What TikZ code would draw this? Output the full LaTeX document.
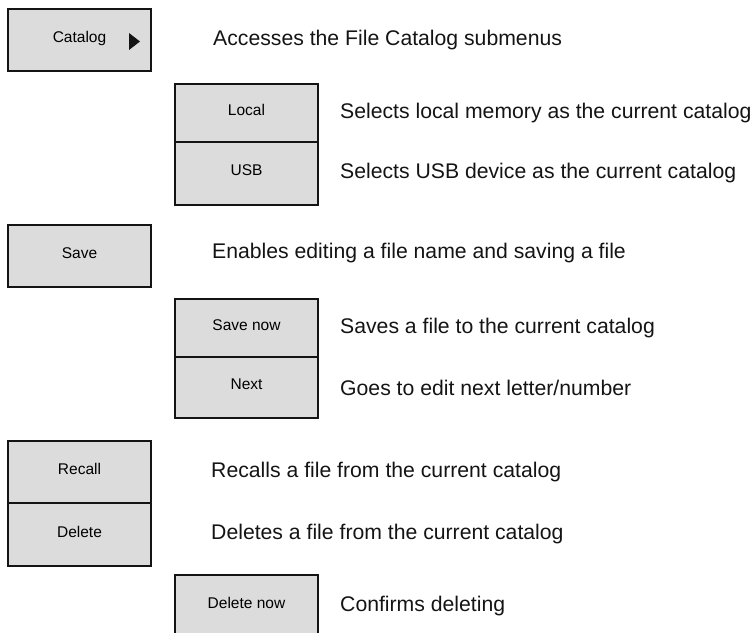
\documentclass[tikz,border=0pt]{standalone}
\usepackage{fontspec}
\setmainfont{Liberation Sans}
\usetikzlibrary{positioning}
\definecolor{ink}{RGB}{20,20,20}
\definecolor{keyfill}{RGB}{220,220,220}
\tikzset{
  softkey/.style={draw=ink,line width=1.3pt,fill=keyfill,outer sep=0pt,
    minimum width=143pt,minimum height=60pt,text depth=6pt,
    font=\fontsize{15.5}{17}\selectfont,anchor=north west},
  desc/.style={font=\fontsize{21.2}{24}\selectfont,text=ink,anchor=west,inner sep=0pt},
}
\begin{document}
\begin{tikzpicture}[x=1pt,y=-1pt]
  \clip (0,0) rectangle (754,632);
  % top level: catalog
  \node[softkey,minimum height=62pt] (catalog) at (8,9) {Catalog\hspace{12pt}};
  \fill[ink] (129,33) -- (140,41.5) -- (129,50) -- cycle;
  \node[desc,right=62pt of catalog] (catalogtxt) {Accesses the File Catalog submenus};
  \node[softkey,minimum height=58pt] (local) at (175,84) {Local};
  \node[softkey,minimum height=63pt,below=0pt of local] (usb) {USB};
  \node[desc,right=22pt of local] (localtxt) {Selects local memory as the current catalog};
  \node[desc,right=22pt of usb] (usbtxt) {Selects USB device as the current catalog};
  % save
  \node[softkey,minimum height=62pt] (save) at (8,225) {Save};
  \node[desc,right=61pt of save,yshift=3pt] (savetxt) {Enables editing a file name and saving a file};
  \node[softkey,minimum height=58pt] (savenow) at (175,299) {Save now};
  \node[softkey,minimum height=61pt,below=0pt of savenow] (next) {Next};
  \node[desc,right=22pt of savenow] (savenowtxt) {Saves a file to the current catalog};
  \node[desc,right=22pt of next] (nexttxt) {Goes to edit next letter/number};
  % recall / delete
  \node[softkey,minimum height=62pt] (recall) at (8,441) {Recall};
  \node[softkey,minimum height=63pt,below=0pt of recall] (delete) {Delete};
  \node[desc,right=60pt of recall] (recalltxt) {Recalls a file from the current catalog};
  \node[desc,right=60pt of delete] (deletetxt) {Deletes a file from the current catalog};
  \node[softkey,minimum height=62pt] (deletenow) at (175,575) {Delete now};
  \node[desc,right=22pt of deletenow] (deletenowtxt) {Confirms deleting};
\end{tikzpicture}
\end{document}
